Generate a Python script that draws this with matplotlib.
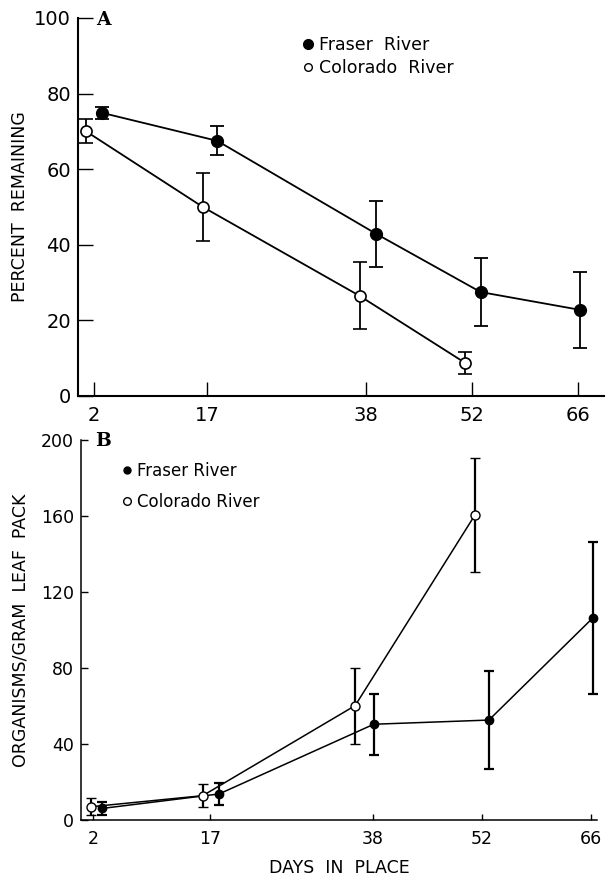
import matplotlib
matplotlib.use("Agg")
import matplotlib.pyplot as plt
from matplotlib.lines import Line2D

# Panel A: percent of leaf pack remaining
day_ticks = [2, 17, 38, 52, 66]
a_fraser_days = [3.1, 18.3, 39.3, 53.1, 66.2]
a_fraser_pct = [74.9, 67.5, 42.9, 27.5, 22.8]
a_fraser_err = [1.6, 3.8, 8.7, 9.0, 10.0]
a_colorado_days = [0.9, 16.4, 37.1, 51.1]
a_colorado_pct = [70.1, 50.0, 26.5, 8.7]
a_colorado_err = [3.3, 9.0, 8.9, 2.9]

# Panel B: organisms per gram of leaf pack
b_fraser_days = [3.2, 18.2, 38.1, 52.9, 66.3]
b_fraser_org = [6.1, 13.7, 50.4, 52.6, 106.5]
b_fraser_err = [3.6, 5.7, 16.0, 26.0, 40.0]
b_colorado_days = [1.8, 16.1, 35.7, 51.1]
b_colorado_org = [7.0, 12.8, 60.2, 160.5]
b_colorado_err = [4.5, 6.0, 20.0, 30.0]

plt.rcParams['font.family'] = ['DejaVu Sans']

W, H = 606, 877
fig = plt.figure(figsize=(W / 100, H / 100), dpi=100)


def px_axes(left, top, right, bottom):
    return fig.add_axes([left / W, 1 - bottom / H, (right - left) / W, (bottom - top) / H])


def style_axes(ax, ticklen_x, ticklen_y, labelsize, spine_lw):
    for side in ('top', 'right'):
        ax.spines[side].set_visible(False)
    for side in ('left', 'bottom'):
        ax.spines[side].set_linewidth(spine_lw)
    ax.tick_params(axis='x', direction='in', length=ticklen_x, width=1.0,
                   labelsize=labelsize, pad=7)
    ax.tick_params(axis='y', direction='in', length=ticklen_y, width=1.0,
                   labelsize=labelsize, pad=5)


# ---------------- Panel A ----------------
axA = px_axes(78, 18, 604, 396)
axA.errorbar(a_fraser_days, a_fraser_pct, yerr=a_fraser_err, fmt='-o',
             color='black', mfc='black', mec='black', ms=8.5, lw=1.3,
             elinewidth=1.3, capsize=5, capthick=1.3, clip_on=False)
axA.errorbar(a_colorado_days, a_colorado_pct, yerr=a_colorado_err, fmt='-o',
             color='black', mfc='white', mec='black', mew=1.2, ms=8, lw=1.3,
             elinewidth=1.3, capsize=5, capthick=1.3, clip_on=False)
axA.set_xlim(-0.1, 69.4)
axA.set_ylim(0, 100)
axA.set_xticks(day_ticks)
axA.set_yticks([0, 20, 40, 60, 80, 100])
style_axes(axA, 10, 11, 14, 1.5)
axA.set_ylabel('PERCENT  REMAINING', fontsize=12.5, labelpad=4)
fig.text(96 / W, 1 - 20 / H, 'A', fontsize=13.5, fontweight='bold',
         family='DejaVu Serif', va='center', ha='left')

handlesA = [Line2D([], [], ls='none', marker='o', color='black', ms=7),
            Line2D([], [], ls='none', marker='o', mfc='white', mec='black', ms=5.5)]
axA.legend(handlesA, ['Fraser  River', 'Colorado  River'], loc='upper left',
           bbox_to_anchor=(0.41, 0.975), frameon=False, fontsize=12.5,
           handlelength=0.6, handletextpad=0.35, borderpad=0, labelspacing=0.3)

# ---------------- Panel B ----------------
axB = px_axes(81, 440, 597, 820)
axB.errorbar(b_fraser_days, b_fraser_org, yerr=b_fraser_err, fmt='-o',
             color='black', mfc='black', mec='black', ms=6, lw=1.1,
             elinewidth=1.6, capsize=3.5, capthick=1.6, clip_on=False)
axB.errorbar(b_colorado_days, b_colorado_org, yerr=b_colorado_err, fmt='-o',
             color='black', mfc='white', mec='black', mew=1.0, ms=6.5, lw=1.1,
             elinewidth=1.6, capsize=3.5, capthick=1.6, clip_on=False)
axB.set_xlim(0.45, 66.8)
axB.set_ylim(0, 200)
axB.set_xticks(day_ticks)
axB.set_yticks([0, 40, 80, 120, 160, 200])
style_axes(axB, 4, 5, 12.5, 1.1)
axB.set_ylabel('ORGANISMS/GRAM  LEAF  PACK', fontsize=12.5, labelpad=8)
axB.set_xlabel('DAYS  IN  PLACE', fontsize=12.5, labelpad=8)
fig.text(95 / W, 1 - 441 / H, 'B', fontsize=13.5, fontweight='bold',
         family='DejaVu Serif', va='center', ha='left')

handlesB = [Line2D([], [], ls='none', marker='o', color='black', ms=5),
            Line2D([], [], ls='none', marker='o', mfc='white', mec='black', ms=5.5)]
axB.legend(handlesB, ['Fraser River', 'Colorado River'], loc='upper left',
           bbox_to_anchor=(0.065, 0.965), frameon=False, fontsize=12,
           handlelength=0.5, handletextpad=0.35, borderpad=0, labelspacing=0.8)

fig.savefig('out.png', dpi=100)
